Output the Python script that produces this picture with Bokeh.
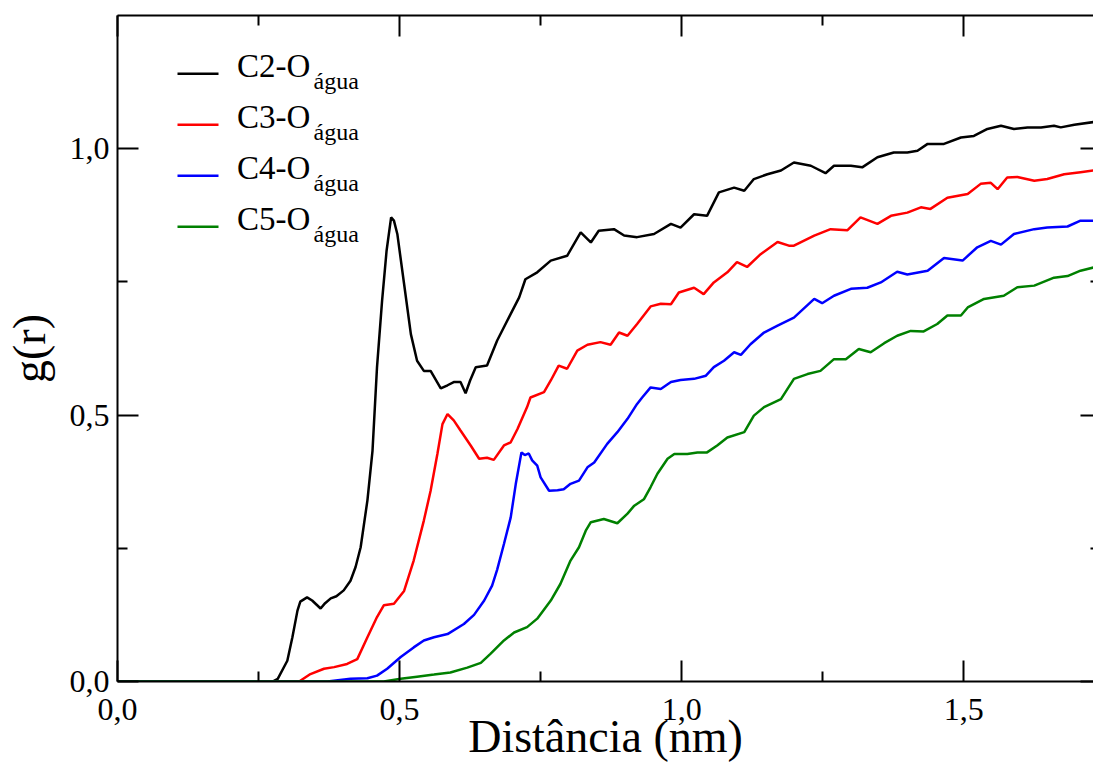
from bokeh.plotting import figure
from bokeh.models import (Range1d, FixedTicker, LinearAxis, Label, Arrow,
                          CustomLabelingPolicy)
from bokeh.embed import file_html
from bokeh.resources import INLINE

FONT = "Liberation Serif"

# ---- data ----
r_c2 = [0.000, 0.275, 0.284, 0.301, 0.310, 0.319, 0.324, 0.336, 0.345, 0.360, 0.368, 0.378,
        0.388, 0.401, 0.413, 0.422, 0.431, 0.443, 0.452, 0.460, 0.469, 0.477, 0.485, 0.490,
        0.496, 0.508, 0.520, 0.531, 0.543, 0.555, 0.573, 0.585, 0.596, 0.608, 0.617, 0.625,
        0.635, 0.655, 0.673, 0.697, 0.712, 0.723, 0.744, 0.768, 0.797, 0.821, 0.839, 0.853,
        0.880, 0.898, 0.921, 0.951, 0.981, 0.998, 1.022, 1.045, 1.066, 1.093, 1.111, 1.128,
        1.152, 1.176, 1.199, 1.229, 1.255, 1.270, 1.300, 1.320, 1.347, 1.376, 1.400, 1.418,
        1.436, 1.465, 1.495, 1.518, 1.542, 1.566, 1.589, 1.613, 1.637, 1.660, 1.672, 1.696,
        1.730]
g_c2 = [0.000, 0.000, 0.005, 0.039, 0.083, 0.133, 0.150, 0.158, 0.152, 0.137, 0.147, 0.156,
        0.160, 0.171, 0.189, 0.215, 0.252, 0.340, 0.433, 0.590, 0.715, 0.809, 0.871, 0.865,
        0.840, 0.746, 0.652, 0.602, 0.583, 0.583, 0.550, 0.556, 0.562, 0.562, 0.541, 0.565,
        0.590, 0.593, 0.640, 0.690, 0.721, 0.755, 0.768, 0.790, 0.799, 0.843, 0.824, 0.846,
        0.849, 0.837, 0.834, 0.840, 0.859, 0.852, 0.877, 0.874, 0.918, 0.927, 0.921, 0.943,
        0.952, 0.959, 0.974, 0.968, 0.954, 0.968, 0.968, 0.965, 0.984, 0.993, 0.993, 0.996,
        1.009, 1.009, 1.021, 1.024, 1.037, 1.043, 1.037, 1.040, 1.040, 1.043, 1.040, 1.045,
        1.050]

r_c3 = [0.000, 0.322, 0.342, 0.366, 0.384, 0.407, 0.425, 0.443, 0.460, 0.472, 0.490, 0.508,
        0.525, 0.543, 0.555, 0.567, 0.576, 0.585, 0.596, 0.608, 0.626, 0.641, 0.655, 0.667,
        0.685, 0.697, 0.709, 0.726, 0.732, 0.756, 0.768, 0.782, 0.797, 0.815, 0.833, 0.856,
        0.874, 0.889, 0.904, 0.921, 0.945, 0.963, 0.981, 0.995, 1.022, 1.039, 1.057, 1.081,
        1.098, 1.116, 1.140, 1.170, 1.190, 1.199, 1.235, 1.264, 1.294, 1.317, 1.347, 1.371,
        1.400, 1.424, 1.441, 1.471, 1.507, 1.530, 1.548, 1.560, 1.577, 1.595, 1.625, 1.648,
        1.678, 1.707, 1.730]
g_c3 = [0.000, 0.000, 0.014, 0.024, 0.027, 0.033, 0.042, 0.083, 0.121, 0.143, 0.146, 0.170,
        0.227, 0.302, 0.358, 0.427, 0.483, 0.502, 0.490, 0.471, 0.443, 0.418, 0.420, 0.416,
        0.443, 0.449, 0.474, 0.515, 0.533, 0.543, 0.565, 0.593, 0.587, 0.621, 0.632, 0.637,
        0.632, 0.655, 0.649, 0.671, 0.704, 0.709, 0.708, 0.730, 0.739, 0.727, 0.749, 0.768,
        0.787, 0.778, 0.802, 0.825, 0.818, 0.818, 0.837, 0.849, 0.847, 0.871, 0.859, 0.874,
        0.880, 0.890, 0.887, 0.908, 0.915, 0.934, 0.936, 0.924, 0.946, 0.947, 0.940, 0.943,
        0.952, 0.956, 0.959]

r_c4 = [0.000, 0.372, 0.413, 0.443, 0.460, 0.478, 0.502, 0.525, 0.543, 0.561, 0.585, 0.614,
        0.632, 0.650, 0.664, 0.673, 0.685, 0.697, 0.706, 0.716, 0.722, 0.729, 0.735, 0.744,
        0.750, 0.765, 0.780, 0.791, 0.803, 0.818, 0.833, 0.845, 0.868, 0.886, 0.904, 0.921,
        0.930, 0.945, 0.963, 0.981, 0.998, 1.022, 1.043, 1.057, 1.075, 1.093, 1.105, 1.122,
        1.146, 1.170, 1.199, 1.235, 1.249, 1.270, 1.300, 1.329, 1.353, 1.382, 1.400, 1.436,
        1.465, 1.498, 1.524, 1.548, 1.566, 1.589, 1.625, 1.648, 1.684, 1.707, 1.730]
g_c4 = [0.000, 0.000, 0.005, 0.006, 0.011, 0.024, 0.046, 0.064, 0.077, 0.083, 0.089, 0.108,
        0.125, 0.152, 0.180, 0.210, 0.258, 0.308, 0.371, 0.430, 0.425, 0.428, 0.415, 0.405,
        0.383, 0.358, 0.359, 0.361, 0.371, 0.377, 0.402, 0.411, 0.446, 0.468, 0.493, 0.521,
        0.533, 0.552, 0.549, 0.562, 0.566, 0.568, 0.574, 0.590, 0.602, 0.618, 0.613, 0.633,
        0.655, 0.668, 0.683, 0.718, 0.710, 0.724, 0.737, 0.739, 0.749, 0.769, 0.764, 0.771,
        0.795, 0.790, 0.815, 0.827, 0.820, 0.840, 0.849, 0.852, 0.854, 0.865, 0.865]

r_c5 = [0.000, 0.472, 0.502, 0.531, 0.561, 0.590, 0.620, 0.644, 0.661, 0.685, 0.703, 0.726,
        0.744, 0.768, 0.785, 0.803, 0.818, 0.830, 0.839, 0.862, 0.886, 0.904, 0.916, 0.933,
        0.945, 0.957, 0.975, 0.987, 1.010, 1.028, 1.045, 1.063, 1.081, 1.111, 1.128, 1.146,
        1.176, 1.199, 1.223, 1.246, 1.270, 1.291, 1.314, 1.335, 1.359, 1.382, 1.406, 1.429,
        1.453, 1.471, 1.495, 1.507, 1.536, 1.571, 1.595, 1.625, 1.660, 1.684, 1.707, 1.730]
g_c5 = [0.000, 0.000, 0.005, 0.009, 0.013, 0.017, 0.026, 0.035, 0.052, 0.077, 0.092, 0.102,
        0.118, 0.152, 0.183, 0.227, 0.252, 0.283, 0.299, 0.305, 0.297, 0.315, 0.330, 0.342,
        0.365, 0.390, 0.418, 0.427, 0.427, 0.430, 0.430, 0.443, 0.458, 0.468, 0.499, 0.515,
        0.530, 0.568, 0.577, 0.583, 0.605, 0.605, 0.624, 0.618, 0.635, 0.649, 0.658, 0.657,
        0.671, 0.687, 0.687, 0.702, 0.718, 0.724, 0.740, 0.743, 0.758, 0.761, 0.771, 0.777]

series_names = ["C2-O", "C3-O", "C4-O", "C5-O"]
series_sub = ["água", "água", "água", "água"]
series_colors = ["#000000", "#ff0000", "#0000ff", "#008000"]

x_ticks = [0.0, 0.5, 1.0, 1.5]
x_tick_labels = ["0,0", "0,5", "1,0", "1,5"]
x_minor = [0.25, 0.75, 1.25]
y_ticks = [0.0, 0.5, 1.0]
y_tick_labels = ["0,0", "0,5", "1,0"]
y_minor = [0.25, 0.75]

# ---- figure ----
p = figure(width=1093, height=764,
           x_range=Range1d(0, 1.73), y_range=Range1d(0, 1.25),
           output_backend="svg", toolbar_location=None,
           min_border_left=117, min_border_right=0, min_border_top=15, min_border_bottom=83,
           x_axis_label="Distância (nm)", y_axis_label="g(r)")
p.outline_line_color = None
p.xgrid.visible = False
p.ygrid.visible = False
p.background_fill_color = "white"
p.border_fill_color = "white"


def style_axis(ax, ticks, minor):
    ax.ticker = FixedTicker(ticks=ticks, minor_ticks=minor)
    ax.axis_line_width = 2
    ax.axis_line_color = "black"
    ax.major_tick_in = 21
    ax.major_tick_out = 0
    ax.minor_tick_in = 10
    ax.minor_tick_out = 0
    ax.major_tick_line_width = 2
    ax.minor_tick_line_width = 2
    ax.major_tick_line_color = "black"
    ax.minor_tick_line_color = "black"
    ax.major_label_text_font = FONT
    ax.major_label_text_font_size = "32px"
    ax.major_label_text_color = "black"
    ax.axis_label_text_font = FONT
    ax.axis_label_text_font_size = "46px"
    ax.axis_label_text_font_style = "normal"
    ax.axis_label_text_color = "black"


xa = p.xaxis[0]
style_axis(xa, x_ticks, x_minor)
xa.major_label_overrides = dict(zip(x_ticks, x_tick_labels))
xa.major_label_standoff = 17
xa.axis_label_standoff = -12

ya = p.yaxis[0]
style_axis(ya, y_ticks, y_minor)
ya.major_label_overrides = dict(zip(y_ticks, y_tick_labels))
ya.major_label_standoff = 8
ya.axis_label_standoff = 12

# hide the labels of the mirror axes entirely (no empty texts)
HIDE_CODE = """
try {
  for (const i of Array.from(indices.ones())) { indices.unset(i) }
} catch (e) {}
return indices
"""

top = LinearAxis()
style_axis(top, x_ticks, x_minor)
top.major_label_text_font_size = "0px"
top.major_label_standoff = 0
top.major_label_policy = CustomLabelingPolicy(code=HIDE_CODE)
p.add_layout(top, "above")

right = LinearAxis()
style_axis(right, y_ticks, y_minor)
right.major_label_text_font_size = "0px"
right.major_label_standoff = 0
right.major_label_policy = CustomLabelingPolicy(code=HIDE_CODE)
right.axis_line_color = None
right.major_tick_in = 13
right.minor_tick_in = 3
p.add_layout(right, "right")

# ---- curves ----
xs = [r_c2, r_c3, r_c4, r_c5]
ys = [g_c2, g_c3, g_c4, g_c5]
for x, y, c in zip(xs, ys, series_colors):
    p.line(x, y, line_color=c, line_width=2.5)

# ---- legend (screen px, measured from the frame's bottom-left corner) ----
LEG_X0, LEG_X1 = 60, 101          # sample line
LEG_TEXT_X, LEG_SUB_X = 119.5, 196
LEG_LINE_Y, LEG_TEXT_Y, LEG_SUB_Y = 607.7, 615.2, 600.8
LEG_STEP = 51

for i, (name, sub, c) in enumerate(zip(series_names, series_sub, series_colors)):
    dy = LEG_STEP * i
    p.add_layout(Arrow(x_start=LEG_X0, y_start=LEG_LINE_Y - dy,
                       x_end=LEG_X1, y_end=LEG_LINE_Y - dy,
                       start_units="screen", end_units="screen",
                       start=None, end=None, line_color=c, line_width=2.5))
    p.add_layout(Label(x=LEG_TEXT_X, y=LEG_TEXT_Y - dy, x_units="screen", y_units="screen",
                       text=name, text_font=FONT, text_font_size="33px",
                       text_color="black", text_baseline="alphabetic", text_align="left"))
    p.add_layout(Label(x=LEG_SUB_X, y=LEG_SUB_Y - dy, x_units="screen", y_units="screen",
                       text=sub, text_font=FONT, text_font_size="24px",
                       text_color="black", text_baseline="alphabetic", text_align="left"))

open("out.html", "w").write(file_html(p, INLINE))
